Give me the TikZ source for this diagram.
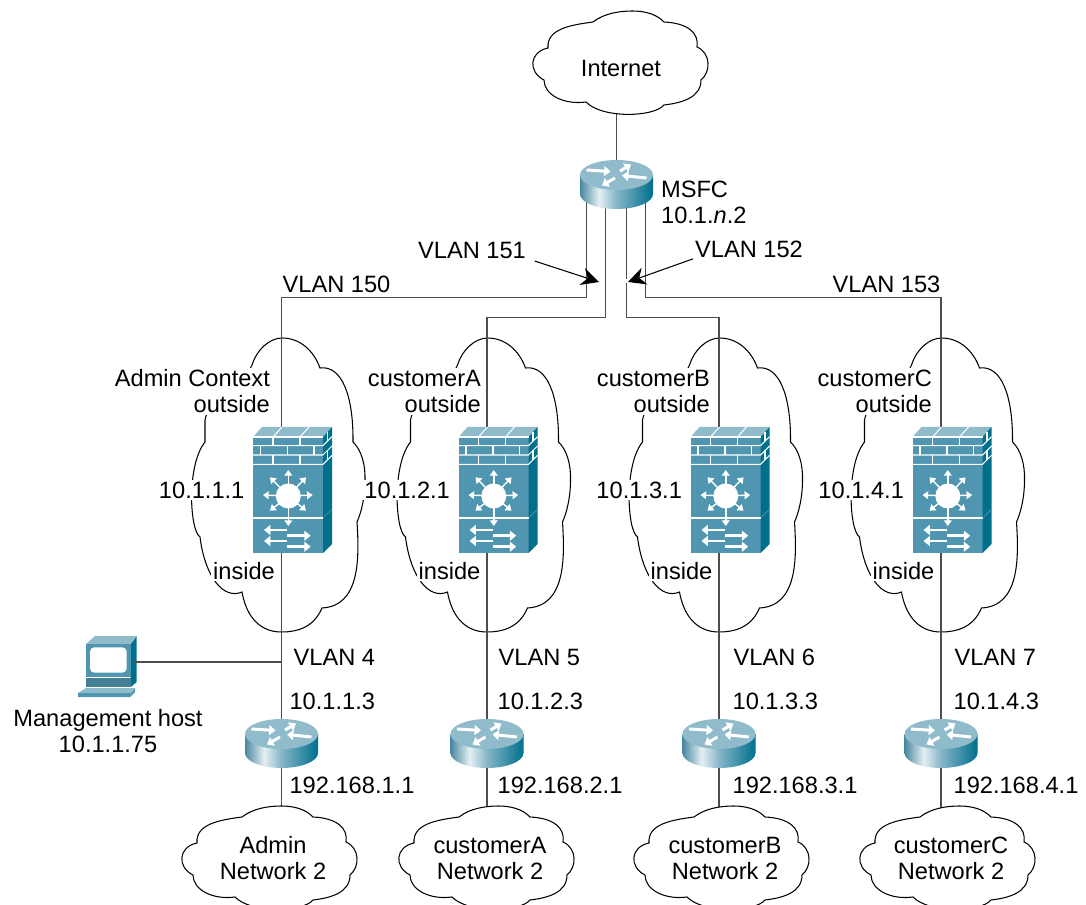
\documentclass[tikz,border=0pt]{standalone}
\usepackage{fontspec}
\setmainfont{Liberation Sans}
\usetikzlibrary{arrows.meta,backgrounds}
\definecolor{iconface}{HTML}{5096B0}
\definecolor{icontop}{HTML}{8FBBCB}
\definecolor{iconside}{HTML}{006F8C}
\pgfdeclarehorizontalshading{routerside}{100bp}{color(0bp)=(iconface); color(25bp)=(iconface!90!black); color(38bp)=(iconface!15!white); color(50bp)=(iconface!70!white); color(75bp)=(iconside); color(100bp)=(iconside)}
\tikzset{
  lbl/.style={font=\fontsize{13.45}{14.8}\selectfont,inner sep=1pt},
  cloudlbl/.style={lbl,fill=white,align=right},
  link/.style={black!70,line width=0.7pt},
  callout/.style={black,line width=0.6pt,-{Stealth[length=10pt,width=10pt]}},
  whitearrow/.style={white,line width=1.7pt,-{Triangle[length=3.6pt,width=5.6pt]}},
  starray/.style={white,line width=0.8pt,-{Triangle[length=3.2pt,width=4.4pt]}},
  routerbox/.style={minimum width=1.46cm,minimum height=0.98cm,inner sep=0pt},
  fwbox/.style={minimum width=1.4cm,minimum height=2.5cm,inner sep=0pt},
  hostbox/.style={minimum width=1.06cm,minimum height=0.6cm,inner sep=0pt},
  router/.pic={
    \shade[shading=routerside] (-36.5,-9.5) -- (-36.5,9.5) arc[start angle=180,end angle=360,x radius=36.5,y radius=-15] -- (36.5,-9.5) -- cycle;
    \fill[icontop] (0,-9.5) circle[x radius=36.5,y radius=15];
    \draw[whitearrow] (-30,-14.5) -- (-6,-13);
    \draw[whitearrow] (3.5,-13.5) -- (14.5,-20);
    \draw[whitearrow] (30,-6.5) -- (5.5,-9);
    \draw[whitearrow] (-1.5,-6.5) -- (-14.5,1);
  },
  firewall/.pic={
    \fill[iconface] (-28.5,-53) rectangle (41.5,63);
    \fill[icontop] (-28.5,-53) -- (-19.5,-63) -- (50.5,-63) -- (41.5,-53) -- cycle;
    \fill[iconside] (41.5,-53) -- (50.5,-63) -- (50.5,54) -- (41.5,63) -- cycle;
    \draw[white,line width=0.6pt] (-28.5,-53) -- (41.5,-53);
    \foreach \y in {-44.3,-35,-25.7} {
      \draw[white,line width=0.6pt] (-28.5,\y) -- (41.5,\y) -- ++(9,-9);
    }
    \foreach \bx in {-8.5,18.5} {
      \draw[white,line width=0.6pt] (\bx,-53) -- (\bx,-44.3);
      \draw[white,line width=0.6pt] (\bx,-35) -- (\bx,-25.7);
      \draw[white,line width=0.6pt] (\bx,-53) -- ++(9,-10);
    }
    \foreach \bx in {-21,6,32.5} {
      \draw[white,line width=0.6pt] (\bx,-44.3) -- (\bx,-35);
    }
    \draw[white,line width=0.6pt] (46,-58) -- (46,-49);
    \draw[white,line width=0.6pt] (46,-39.5) -- (46,-30);
    \draw[white,line width=0.6pt] (-28.5,28) -- (41.5,28);
    \draw[iconface,line width=0.4pt] (41.5,28) -- (50.5,19);
    \fill[white] (6.8,6) circle(12.5);
    \draw[starray] (6.8,6) -- (6.8,-20);
    \draw[starray] (6.8,6) -- (6.8,36);
    \draw[starray] (6.8,6) -- (31.2,5);
    \draw[starray] (6.8,6) -- (-18.5,5);
    \draw[starray] (6.8,6) -- (24.5,-12.7);
    \draw[starray] (6.8,6) -- (-11.5,-12.7);
    \draw[starray] (6.8,6) -- (24.5,20.7);
    \draw[starray] (6.8,6) -- (-11.5,20.7);
    \foreach \y in {40,51} { \draw[whitearrow] (5.8,\y) -- (-17.5,\y); }
    \foreach \y in {45.7,56.7} { \draw[whitearrow] (5.8,\y) -- (29.2,\y); }
  },
  pc/.pic={
    \fill[iconside] (130.7,644) -- (136.7,636) -- (136.7,682) -- (130.7,687) -- cycle;
    \fill[icontop] (86,644) -- (95,636) -- (136.7,636) -- (130.7,644) -- cycle;
    \fill[iconface] (86,644) rectangle (130.7,677);
    \fill[iconface!85!black] (86,677.5) rectangle (130.7,686.7);
    \fill[white,rounded corners=2.5pt] (90,647.3) rectangle (126.7,672.7);
    \fill[icontop] (86,688) -- (135,688) -- (131.7,693) -- (78,693) -- cycle;
    \fill[iconface] (78,693) -- (131.7,693) -- (135,688) -- (135,692) -- (130,697) -- (78,697) -- cycle;
  },
  bigcloud/.pic={
    \draw[black,line width=0.6pt] (-29.5,365) .. controls (-25,350) and (-12,338) .. (0.5,338)
      .. controls (18,338) and (32,350) .. (38.5,368)
      .. controls (60,365) and (72,395) .. (71.5,442)
      .. controls (80,450) and (84,465) .. (83.5,480)
      .. controls (83.5,497) and (80,512) .. (75.5,522)
      .. controls (78,560) and (78,606) .. (40.5,608)
      .. controls (32,628) and (15,632) .. (0,632)
      .. controls (-25,632) and (-36,612) .. (-39.5,592)
      .. controls (-58,600) and (-76.5,577) .. (-81.5,537)
      .. controls (-92,530) and (-95,465) .. (-76.5,442)
      -- (-76.5,420)
      .. controls (-70,390) and (-40,390) .. (-29.5,365) -- cycle;
  },
  smallcloud/.pic={
    \draw[black,line width=0.6pt,fill=white] (-39.5,11) .. controls (-28,2) and (-12,0) .. (0,0)
      .. controls (12,0) and (24,3) .. (31.5,11)
      .. controls (55,12) and (66.8,22) .. (64.5,36)
      .. controls (78.5,42) and (78.5,61) .. (68.5,69)
      .. controls (68.5,87) and (48.5,92) .. (31.5,94)
      .. controls (22,106) and (-30,108) .. (-46.5,91)
      .. controls (-68.5,94) and (-88.5,84) .. (-88.5,69)
      .. controls (-104.5,61) and (-103.5,41) .. (-84.5,37)
      .. controls (-86,18) and (-62,14) .. (-39.5,11) -- cycle;
  }
}
\begin{document}
\begin{tikzpicture}[x=0.02cm,y=-0.02cm]
  \useasboundingbox (0,0) rectangle (1086,905);
  \clip (0,0) rectangle (1086,905);
  % top of the picture
  \pic at (632.5,11) {smallcloud};
  \node[lbl] (inet) at (621,68) {Internet};
  \node[routerbox] (msfc) at (616.5,184.5) {};
  \pic at (msfc) {router};
  \node[lbl,anchor=west,align=left] (msfclbl) at (659,202) {MSFC\\10.1.\textit{n}.2};
  \node[lbl,anchor=east] (lb151) at (528,250) {VLAN 151};
  \node[lbl,anchor=west] (lb152) at (693,249) {VLAN 152};
  \node[lbl,anchor=west] (lb150) at (280.5,284) {VLAN 150};
  \node[lbl,anchor=east] (lb153) at (942.5,284) {VLAN 153};
  % one column per context
  \foreach \n/\x/\oe/\vl/\tl/\cx/\cname/\bname/\vlan/\sub in {
    Admin/281.5/272/294/290/281.5/Admin Context/Admin/4/1,
    A/487/483/499/498/498.5/customerA/customerA/5/2,
    B/719/712/734/733/733.5/customerB/customerB/6/3,
    C/941/934/955/954/959.5/customerC/customerC/7/4} {
    \node[cloudlbl,anchor=east] (out\n) at (\oe,391.5) {\cname\\outside};
    \node[cloudlbl,anchor=east] (ip\n) at (\x-35,490) {10.1.\sub.1};
    \node[cloudlbl,anchor=east] (in\n) at (\x-4.5,571) {inside};
    \node[fwbox] (fw\n) at (\x,490) {};
    \pic at (fw\n) {firewall};
    \node[lbl,anchor=west] (vl\n) at (\vl-2.5,657) {VLAN \vlan};
    \node[lbl,anchor=west] (gw\n) at (\tl-2.5,701) {10.1.\sub.3};
    \node[routerbox] (rt\n) at (\x,743.5) {};
    \pic at (rt\n) {router};
    \node[lbl,anchor=west] (net\n) at (\tl-2.5,785) {192.168.\sub.1};
    \pic at (\cx,806) {smallcloud};
    \node[lbl,align=center] (nw\n) at (\cx-8.5,858) {\bname\\Network 2};
  }
  % management host
  \node[hostbox] (host) at (80+27,662) {};
  \pic at (0,0) {pc};
  \draw[link] (host.east) -- (host.east -| rtAdmin);
  \node[lbl,align=center] (hostlbl) at (108,731.5) {Management host\\10.1.1.75};
  % callouts
  \coordinate (tip151) at (599,282);
  \coordinate (tip152) at (628,282);
  \fill[white] (625.5,279.5) rectangle (628.5,283);
  \draw[callout,shorten <=4pt] (lb151.-9) -- (tip151);
  \draw[callout] (lb152.190) -- (tip152);
  \begin{scope}[on background layer]
    \foreach \x in {281.5,487,719,941} {
      \pic at (\x,0) {bigcloud};
    }
    \coordinate (m150) at (586.7,184.5);
    \coordinate (m151) at (605.7,184.5);
    \coordinate (m152) at (626.7,184.5);
    \coordinate (m153) at (645.7,184.5);
    \coordinate (upper) at (0,297.7);
    \coordinate (lower) at (0,317.7);
    \draw[link] (msfc |- inet) -- (msfc);
    \draw[link] (m150) |- (upper -| fwAdmin) -- (fwAdmin);
    \draw[link] (m151) |- (lower -| fwA) -- (fwA);
    \draw[link] (m152) |- (lower -| fwB) -- (fwB);
    \draw[link] (m153) |- (upper -| fwC) -- (fwC);
    \foreach \n in {Admin,A,B,C} {
      \draw[link] (fw\n) -- (rt\n);
      \draw[link] (rt\n) -- (rt\n |- nw\n);
    }
  \end{scope}
\end{tikzpicture}
\end{document}
